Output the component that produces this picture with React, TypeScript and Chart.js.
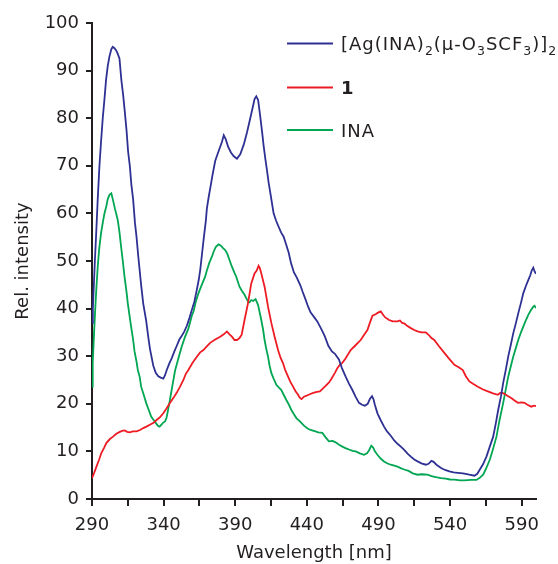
import { useEffect, useRef } from 'react';
import { Chart, registerables } from 'chart.js';

Chart.register(...registerables);

// ---------- data (wavelength nm, relative intensity) ----------
const blueSpectrum: [number, number][] = [
  [290, 37], [290.6, 40], [292, 50], [292.8, 55], [294, 63], [295.2, 70], [296.3, 75], [297.5, 80],
  [298.7, 84], [299.8, 88], [301, 91], [302.2, 93], [303.5, 94.5], [304.5, 95], [305.7, 94.7], [307, 94.2],
  [308, 93.5], [309.2, 92.5], [310.5, 88], [311.7, 85], [312.7, 82], [314.1, 77.5], [315.2, 73], [316.4, 70],
  [317.5, 66], [318.7, 63], [320, 58], [321.1, 55], [322.3, 51], [324.3, 45], [325.8, 41], [327.8, 37.5],
  [329.3, 34], [330.5, 31.5], [332.8, 28], [334.5, 26.5], [336.3, 25.8], [338, 25.5], [339.8, 25.3], [341, 26],
  [342.2, 27.1], [344, 28.5], [345.7, 29.6], [347.5, 31], [349.2, 32.2], [351, 33.5], [352.7, 34.3], [354.5, 35.2],
  [356.2, 36.4], [358, 38], [359.7, 39.7], [361.5, 41.5], [363.2, 44], [364.5, 46], [365.6, 48.2], [367, 52],
  [368.3, 55.5], [369.5, 58.5], [370.2, 61], [371.5, 63.5], [372.5, 65.2], [374.1, 68], [376, 71], [378.3, 73],
  [379.5, 74], [380.7, 75], [382, 76.4], [383.5, 75.5], [385, 74], [387, 72.8], [389, 72], [391.2, 71.5],
  [393.5, 72.4], [396, 74.5], [398.2, 77], [400.5, 80], [402, 82], [403.5, 84], [404.7, 84.6], [406, 83.8],
  [407.5, 80.3], [408.8, 77], [409.8, 74.3], [411, 71.5], [412.2, 69], [413.3, 66.5], [414.5, 64.3], [416, 61.5],
  [416.8, 60], [418.5, 58.5], [420.3, 57.2], [422, 56], [423.8, 55.1], [425.5, 53.5], [427.3, 51.8], [429, 49.5],
  [431, 47.6], [433, 46.5], [435.6, 44.8], [437, 43.6], [439, 42], [440.9, 40.4], [442.6, 39.2], [445.6, 38],
  [447.3, 37.3], [450.3, 35.6], [452.5, 34.2], [455, 32.2], [457.5, 31], [459.6, 30.5], [462.4, 29.3], [464.5, 27.5],
  [467.1, 25.7], [469.5, 24.2], [471.8, 22.9], [474, 21.5], [476.4, 20.2], [478.5, 19.8], [480.5, 19.6], [482.5, 20],
  [484, 21], [485.5, 21.6], [486.5, 21], [487.5, 19.8], [489.3, 18], [491.5, 16.6], [493.9, 15.2], [496, 14.2],
  [498.6, 13.3], [501, 12.3], [503.3, 11.6], [505.6, 11], [508, 10.3], [510.5, 9.5], [512.6, 8.9], [515, 8.3],
  [517.3, 7.9], [520, 7.5], [523.1, 7.2], [525, 7.4], [527, 8], [528.5, 7.8], [530.5, 7.2], [533.7, 6.5],
  [536.5, 6.1], [539.5, 5.8], [542.5, 5.6], [545.4, 5.5], [549, 5.4], [553.5, 5.1], [557, 4.9], [559, 5.3],
  [560.8, 6.2], [563, 7.3], [565.4, 8.9], [567.5, 10.8], [570.1, 13.1], [572, 16], [573.6, 18.7], [575.5, 21.5],
  [577.1, 24.4], [579, 27.3], [580.6, 29.9], [582.5, 32.5], [584.1, 34.8], [586, 37], [587.6, 39], [589.5, 41.2],
  [591.1, 43.2], [593, 44.8], [594.6, 46], [596, 47], [597, 48], [598.1, 48.6], [599, 47.8], [600, 47.3],
];

const redSpectrum: [number, number][] = [
  [290, 4.4], [291.5, 5.5], [293.1, 6.8], [295, 8.3], [296.6, 9.7], [298.5, 10.8], [300.1, 11.8], [302.5, 12.6],
  [304.7, 13.1], [307, 13.7], [309.4, 14.1], [311, 14.3], [312.9, 14.4], [314.5, 14.1], [316.4, 14], [318.5, 14.2],
  [321.1, 14.2], [323.5, 14.5], [325.8, 14.9], [328, 15.2], [330.4, 15.6], [333, 16], [335.1, 16.6], [337.5, 17.2],
  [339.8, 18], [342, 19], [344.5, 20.2], [347, 21.3], [349.1, 22.3], [351.5, 23.6], [353.8, 25], [355.5, 26.3],
  [357.3, 27.1], [360, 28.5], [363.2, 29.9], [365.5, 30.8], [367.8, 31.3], [370, 32], [372.5, 32.8], [376, 33.5],
  [379.5, 34.1], [382, 34.6], [384.2, 35.2], [386, 34.6], [387.7, 34.1], [389.5, 33.4], [391.2, 33.4], [393, 33.8],
  [394.5, 34.5], [396.5, 37.6], [398.9, 41.1], [401.2, 45.3], [403.5, 47.4], [405, 48], [406.3, 49], [407.2, 48.5],
  [408.2, 47.4], [410.5, 44.6], [412.9, 40.4], [415.2, 37], [417.5, 34.1], [419.9, 31.3], [421.5, 29.8], [423.4, 28.5],
  [425, 27], [426.9, 25.7], [428.5, 24.6], [430.4, 23.6], [432, 22.7], [433.9, 21.9], [435, 21.3], [436.3, 21],
  [438, 21.5], [439.8, 21.7], [442, 22], [444.5, 22.3], [447, 22.5], [449.1, 22.6], [451.5, 23.3], [453.8, 24],
  [455.5, 24.5], [457.3, 25.3], [459.6, 26.5], [461.3, 27.5], [463, 28.2], [464.8, 28.6], [467, 29.5], [470.6, 31.3],
  [474, 32.3], [477.6, 33.4], [480, 34.5], [482.3, 35.5], [484, 37], [485.8, 38.5], [488, 38.8], [490, 39.2],
  [491.6, 39.4], [493, 38.8], [494.5, 38.2], [497.4, 37.6], [500, 37.3], [503.3, 37.3], [505, 37.5], [506.5, 37],
  [507.9, 36.9], [510, 36.4], [512.6, 35.9], [515, 35.5], [517.3, 35.2], [520, 35], [523.1, 35], [525, 34.5],
  [527, 33.8], [529, 33.4], [532, 32.2], [536, 30.7], [539, 29.6], [543, 28.2], [546, 27.7], [548.9, 27.1],
  [551, 25.8], [553.5, 24.7], [556, 24.2], [559.4, 23.6], [563, 23], [566.4, 22.6], [570, 22.2], [573.4, 21.9],
  [575, 22.3], [576.5, 22.3], [578, 22.1], [580, 21.7], [582.7, 21.2], [585, 20.7], [587.4, 20.2], [590, 20.3],
  [592, 20.2], [594, 19.8], [596.7, 19.4], [598.5, 19.6], [600, 19.5],
];

const greenSpectrum: [number, number][] = [
  [290, 23.6], [290.5, 28.5], [291.3, 34], [292.1, 39], [293, 44], [294, 48.8], [295, 52.5], [296.3, 55.8],
  [297.5, 58], [298.7, 60], [300, 61.5], [301, 63], [302.2, 63.9], [303.5, 64.2], [304.5, 63], [306, 61],
  [308, 58.6], [309.2, 56], [310.3, 53], [311.5, 50], [312.7, 46.7], [314.1, 43.5], [315, 41.1], [316.2, 38.5],
  [317.3, 36.2], [318.7, 33.5], [319.7, 31], [321, 29], [322, 27.1], [323.4, 25.5], [324.3, 23.6], [326, 22],
  [327.8, 20.2], [329.5, 18.8], [331.3, 17.3], [333, 16.6], [334.5, 16], [336, 15.4], [337.2, 15.2], [338.5, 15.6],
  [339.5, 16], [341, 16.3], [342, 17], [343, 18.5], [344.5, 21], [345.6, 22.9], [347, 25.3], [348, 27],
  [350.3, 29.5], [352.6, 32], [355, 34.1], [357.3, 35.8], [359.7, 38.5], [361, 39.5], [362.5, 41.5], [364.3, 43.2],
  [366, 44.5], [368, 46], [369, 46.7], [370.2, 48], [372, 49.7], [373.7, 50.9], [375, 52], [376.5, 53],
  [378.3, 53.5], [380, 53.2], [381.5, 52.7], [383, 52.3], [384.5, 51.5], [386, 50.2], [387.7, 48.8], [389.5, 47.5],
  [390.7, 46.7], [393, 44.6], [394.5, 43.8], [396.5, 42.9], [398.9, 41.5], [400, 41.3], [401.2, 41.8], [402.5, 41.6],
  [404.2, 42], [405.2, 41.3], [405.9, 40.8], [407, 39.3], [408.2, 37.6], [409.5, 35.5], [410.5, 33.4], [411.7, 31.5],
  [412.9, 29.9], [414, 28], [415.2, 26.5], [416.8, 25.3], [418.7, 24], [420.5, 23.4], [422.2, 22.9], [424, 21.8],
  [425.7, 20.8], [427.5, 19.8], [429.2, 18.7], [431, 17.8], [432.7, 17], [435.5, 16.2], [438, 15.4], [440.5, 14.8],
  [442.6, 14.5], [446, 14.2], [448, 14], [450.8, 13.9], [453, 13], [455.4, 12.1], [458, 12.2], [460.1, 11.9],
  [462.5, 11.4], [464.8, 11], [467, 10.7], [469.4, 10.4], [472, 10.1], [474.1, 10], [477, 9.6], [479.9, 9.3],
  [482, 9.6], [483.4, 10.2], [485, 11.2], [486.3, 10.8], [487.5, 10], [489.3, 9.3], [491.5, 8.5], [493.9, 7.9],
  [496, 7.5], [498.6, 7.2], [501, 7], [503.3, 6.8], [505.5, 6.5], [508, 6.2], [511, 5.9], [514, 5.4],
  [517.3, 5.1], [520, 5.2], [524.3, 5.1], [527, 4.8], [530, 4.6], [533.7, 4.4], [537, 4.3], [540, 4.1],
  [543, 4.05], [547, 3.9], [550, 3.9], [554.7, 4], [558.4, 4], [560.5, 4.4], [563.1, 5.1], [565, 6.3],
  [567.8, 8.3], [570, 10.5], [572.4, 13.1], [574.5, 16.5], [577.1, 20.2], [579, 23.2], [580.6, 25.7], [582.5, 28],
  [584.1, 29.9], [586, 31.8], [587.6, 33.4], [589.5, 35], [591.1, 36.2], [593, 37.6], [594.6, 38.7], [596.5, 39.7],
  [598.1, 40.4], [599, 40.6], [600, 40.1],
];

const seriesLabels = ['[Ag(INA)2(μ-O3SCF3)]2', '1', 'INA'];
const xTitle = 'Wavelength [nm]';
const yTitle = 'Rel. intensity';
const xMin = 290;
const xMax = 600;
const xTickValues = [290, 315, 340, 365, 390, 415, 440, 465, 490, 515, 540, 565, 590];
const xTickLabels = [290, 340, 390, 440, 490, 540, 590];
const yMin = 0;
const yMax = 100;
const yTickStep = 10;

// ---------- styles ----------
const FONT = "'DejaVu Sans', 'Liberation Sans', sans-serif";
const INK = '#231F20';
const BLUE = '#2E3192';
const RED = '#ED1C24';
const GREEN = '#00A651';

type Part = { t: string; sub?: boolean; bold?: boolean };
const legendItems: { color: string; parts: Part[] }[] = [
  {
    color: BLUE,
    parts: [
      { t: '[Ag(INA)' }, { t: '2', sub: true }, { t: '(μ-O' }, { t: '3', sub: true },
      { t: 'SCF' }, { t: '3', sub: true }, { t: ')]' }, { t: '2', sub: true },
    ],
  },
  { color: RED, parts: [{ t: seriesLabels[1], bold: true }] },
  { color: GREEN, parts: [{ t: seriesLabels[2] }] },
];

const legendPlugin = {
  id: 'richLegend',
  afterDraw(chart: any) {
    const ctx: CanvasRenderingContext2D = chart.ctx;
    ctx.save();
    const lineX0 = 287;
    const lineX1 = 333;
    const textX = 341;
    const rows = [43.5, 87.5, 130];
    legendItems.forEach((item, i) => {
      const y = rows[i];
      ctx.strokeStyle = item.color;
      ctx.lineWidth = 1.8;
      ctx.beginPath();
      ctx.moveTo(lineX0, y);
      ctx.lineTo(lineX1, y);
      ctx.stroke();
      let x = textX;
      const base = y + 6.5;
      ctx.fillStyle = INK;
      ctx.textBaseline = 'alphabetic';
      ctx.textAlign = 'left';
      try { (ctx as any).letterSpacing = '1px'; } catch (e) { /* ignore */ }
      item.parts.forEach((p) => {
        if (p.sub) {
          ctx.font = `12.5px ${FONT}`;
          ctx.fillText(p.t, x, base + 5);
        } else {
          ctx.font = `${p.bold ? 'bold ' : ''}18px ${FONT}`;
          ctx.fillText(p.t, x, base);
        }
        x += ctx.measureText(p.t).width;
      });
    });
    ctx.restore();
  },
};

export default function App() {
  const ref = useRef<HTMLCanvasElement | null>(null);

  useEffect(() => {
    if (!ref.current) return;
    const toPts = (arr: [number, number][]) => arr.map(([x, y]) => ({ x, y }));
    const chart = new Chart(ref.current, {
      type: 'line',
      data: {
        datasets: [
          { label: seriesLabels[0], data: toPts(blueSpectrum), borderColor: BLUE },
          { label: seriesLabels[1], data: toPts(redSpectrum), borderColor: RED },
          { label: seriesLabels[2], data: toPts(greenSpectrum), borderColor: GREEN },
        ].map((d) => ({ ...d, borderWidth: 1.8, pointRadius: 0, tension: 0, fill: false })),
      },
      options: {
        responsive: false,
        animation: false,
        layout: { padding: { top: 23, right: 22, left: 0, bottom: 0 } },
        plugins: { legend: { display: false }, tooltip: { enabled: false } },
        scales: {
          x: {
            type: 'linear',
            min: xMin,
            max: xMax,
            afterBuildTicks: (s: any) => { s.ticks = xTickValues.map((value) => ({ value })); },
            afterFit: (s: any) => { s.height = 65; },
            border: { display: true, color: INK, width: 2 },
            grid: { drawOnChartArea: false, drawTicks: true, tickLength: 7, color: INK, lineWidth: 2 },
            ticks: {
              autoSkip: false,
              maxRotation: 0,
              minRotation: 0,
              padding: 9,
              color: INK,
              font: { family: FONT, size: 18 },
              callback: (v: any) => (xTickLabels.includes(Number(v)) ? String(v) : ''),
            },
            title: {
              display: true,
              text: xTitle,
              color: INK,
              font: { family: FONT, size: 18 },
              padding: { top: 0, bottom: 0 },
            },
          },
          y: {
            min: yMin,
            max: yMax,
            afterFit: (s: any) => { s.width = 92; },
            border: { display: true, color: INK, width: 2 },
            grid: { drawOnChartArea: false, drawTicks: true, tickLength: 6, color: INK, lineWidth: 2 },
            ticks: {
              stepSize: yTickStep,
              padding: 7,
              color: INK,
              font: { family: FONT, size: 18 },
            },
            title: {
              display: true,
              text: yTitle,
              color: INK,
              font: { family: FONT, size: 18 },
              padding: { top: 13, bottom: 0 },
            },
          },
        },
      },
      plugins: [legendPlugin],
    });
    return () => chart.destroy();
  }, []);

  return (
    <div style={{ position: 'absolute', left: 0, top: 0, width: 558, height: 564, background: '#fff' }}>
      <canvas ref={ref} width={558} height={564} />
    </div>
  );
}
